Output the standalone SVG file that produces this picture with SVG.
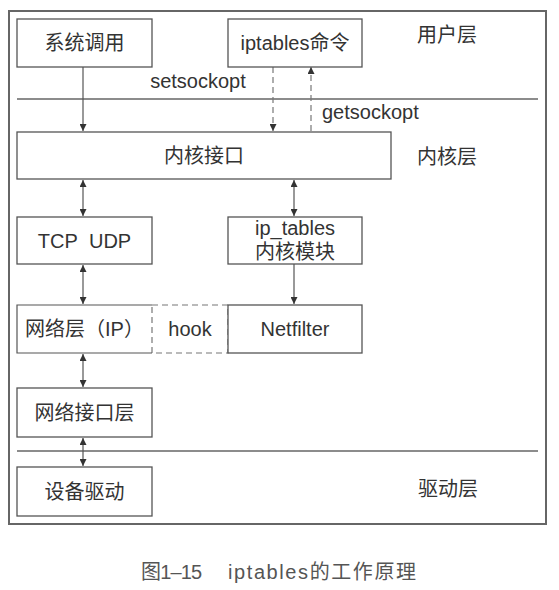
<svg xmlns="http://www.w3.org/2000/svg" width="559" height="590" viewBox="0 0 559 590">
<style>
.box{fill:#fff;stroke:#555;stroke-width:1.3}
.t{font-family:"Liberation Sans","Noto Sans CJK SC",sans-serif;font-size:20px;fill:#333;text-anchor:middle}
.l{font-family:"Liberation Sans","Noto Sans CJK SC",sans-serif;font-size:20px;fill:#333;text-anchor:start}
.ln{stroke:#555;stroke-width:1.2;fill:none}
.dash{stroke:#777;stroke-width:1.2;stroke-dasharray:6,4;fill:none}
.sep{stroke:#666;stroke-width:1.3}
</style>
<defs>
<marker id="ah" viewBox="0 0 8 8" refX="8" refY="4" markerWidth="7" markerHeight="7" markerUnits="userSpaceOnUse" orient="auto-start-reverse">
<path d="M0,0 L8,4 L0,8 z" fill="#333"/>
</marker>
</defs>
<rect width="559" height="590" fill="#fff"/>
<rect x="9" y="11" width="537" height="513" fill="none" stroke="#666" stroke-width="2"/>
<g id="separators">
<line class="sep" x1="17" y1="99" x2="538" y2="99"/>
<line class="sep" x1="17" y1="451" x2="538" y2="451"/>
</g>
<g id="layer-labels">
<text class="l" x="417" y="42">用户层</text>
<text class="l" x="417" y="164">内核层</text>
<text class="l" x="418" y="496">驱动层</text>
</g>
<g id="connectors">
<line class="ln" x1="83" y1="67" x2="83" y2="131" marker-end="url(#ah)"/>
<line class="dash" x1="273" y1="67" x2="273" y2="131" marker-end="url(#ah)"/>
<line class="dash" x1="311" y1="131" x2="311" y2="67" marker-end="url(#ah)"/>
<line class="ln" x1="83" y1="180" x2="83" y2="216" marker-start="url(#ah)" marker-end="url(#ah)"/>
<line class="ln" x1="294" y1="180" x2="294" y2="216" marker-start="url(#ah)" marker-end="url(#ah)"/>
<line class="ln" x1="294" y1="264" x2="294" y2="304" marker-end="url(#ah)"/>
<line class="ln" x1="83" y1="265" x2="83" y2="304" marker-start="url(#ah)" marker-end="url(#ah)"/>
<line class="ln" x1="83" y1="354" x2="83" y2="387" marker-start="url(#ah)" marker-end="url(#ah)"/>
<line class="ln" x1="83" y1="438" x2="83" y2="466" marker-start="url(#ah)" marker-end="url(#ah)"/>
<text class="t" x="198" y="88">setsockopt</text>
<text class="l" x="322" y="119">getsockopt</text>
</g>
<g id="syscall">
<rect class="box" x="17" y="19" width="135" height="48"/>
<text class="t" x="84.5" y="50">系统调用</text>
</g>
<g id="iptables-cmd">
<rect class="box" x="228" y="19" width="134" height="48"/>
<text class="t" x="295" y="50">iptables命令</text>
</g>
<g id="kernel-if">
<rect class="box" x="17" y="132" width="374" height="47"/>
<text class="t" x="204" y="163">内核接口</text>
</g>
<g id="tcpudp">
<rect class="box" x="17" y="217" width="135" height="47"/>
<text class="t" x="84.5" y="248">TCP&#160; UDP</text>
</g>
<g id="ip-tables">
<rect class="box" x="228" y="217" width="134" height="47"/>
<text class="t" x="295" y="235">ip_tables</text>
<text class="t" x="295" y="259">内核模块</text>
</g>
<g id="hook">
<rect x="152" y="305" width="76" height="48" fill="#fff" class="dash"/>
<text class="t" x="190" y="336">hook</text>
</g>
<g id="ip-layer">
<path d="M152,305 L17,305 L17,353 L152,353" class="ln" stroke-width="1.3"/>
<text class="t" x="84.5" y="336">网络层（IP）</text>
</g>
<g id="netfilter">
<rect class="box" x="228" y="305" width="134" height="48"/>
<text class="t" x="295" y="336">Netfilter</text>
</g>
<g id="netif">
<rect class="box" x="17" y="388" width="135" height="49"/>
<text class="t" x="84.5" y="420">网络接口层</text>
</g>
<g id="driver">
<rect class="box" x="17" y="467" width="135" height="49"/>
<text class="t" x="84.5" y="499">设备驱动</text>
</g>
<text y="579" font-family="Liberation Sans,'Noto Sans CJK SC',sans-serif" font-size="20" fill="#555"><tspan x="141" textLength="61" lengthAdjust="spacing">图1–15</tspan><tspan x="228" textLength="188" lengthAdjust="spacing">iptables的工作原理</tspan></text>
</svg>
